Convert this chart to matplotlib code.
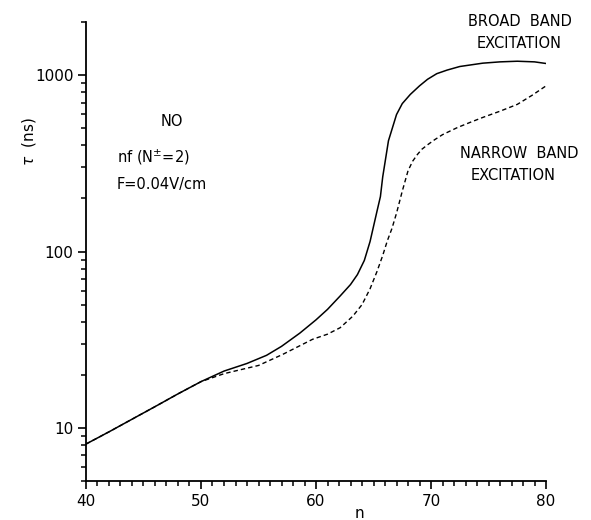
import numpy as np
from matplotlib import pyplot as plt
from matplotlib.ticker import LogLocator, NullFormatter, FixedLocator, MultipleLocator

# values
n_broad = [40, 42, 44, 46, 48, 50, 52, 54, 55.7, 57, 58.6, 60, 61, 62.1, 63.0,
           63.6, 64.2, 64.7, 65.3, 65.6, 65.8, 66.3, 67.0, 67.5, 68.2, 69.0,
           69.7, 70.5, 71.4, 72.5, 74.5, 76, 77.5, 79, 80]
tau_broad = [8.1, 9.5, 11.2, 13.2, 15.6, 18.3, 21.0, 23.2, 25.8, 29.0, 34.5, 41.0,
             47.0, 56.0, 65.0, 74.0, 89.0, 114.0, 169.0, 205.0, 265.0, 425.0,
             598.0, 690.0, 778.0, 870.0, 948.0, 1020.0, 1069.0, 1120.0, 1170.0,
             1190.0, 1200.0, 1190.0, 1165.0]

n_narrow = [40, 42, 44, 46, 48, 50, 52, 52.8, 55, 57.1, 59.7, 61, 62.1, 63.2,
            64.0, 64.7, 65.3, 65.8, 66.2, 66.6, 67.0, 67.5, 68.0, 68.4, 68.8,
            69.2, 69.7, 70.3, 71.0, 72.3, 73.4, 74.5, 76, 77.5, 78.8, 80]
tau_narrow = [8.1, 9.5, 11.2, 13.2, 15.6, 18.3, 20.3, 20.9, 22.6, 26.1, 31.8, 34.0,
              37.0, 43.0, 50.0, 61.5, 77.0, 95.0, 115.0, 135.0, 165.0, 220.0,
              287.0, 325.0, 354.0, 380.0, 403.0, 430.0, 460.0, 505.0, 540.0,
              576.0, 625.0, 683.0, 770.0, 870.0]

x_ticks = [40, 50, 60, 70, 80]
y_ticks = [10, 100, 1000]
y_ticklabels = ['10', '100', '1000']

fig = plt.figure(figsize=(5.91, 5.20), dpi=100)
ax = fig.add_axes([0.1455, 0.075, 0.7784, 0.8825])

ax.plot(n_broad, tau_broad, color='black', lw=1.1, solid_capstyle='butt')
ax.plot(n_narrow, tau_narrow, color='black', lw=1.0, linestyle=(0, (3.2, 2.2)))

ax.set_yscale('log')
ax.set_xlim(40, 80)
ax.set_ylim(5, 2000)

ax.spines['top'].set_visible(False)
ax.spines['right'].set_visible(False)
ax.spines['left'].set_linewidth(1.3)
ax.spines['bottom'].set_linewidth(1.3)

ax.xaxis.set_major_locator(FixedLocator(x_ticks))
ax.xaxis.set_minor_locator(MultipleLocator(1))
ax.set_xticklabels([str(v) for v in x_ticks])
ax.yaxis.set_major_locator(FixedLocator(y_ticks))
ax.set_yticklabels(y_ticklabels)
ax.yaxis.set_minor_locator(LogLocator(base=10, subs=np.arange(2, 10)))
ax.yaxis.set_minor_formatter(NullFormatter())

ax.tick_params(which='major', direction='out', length=6, width=1.2,
               labelsize=11, pad=3, color='black')
ax.tick_params(which='minor', direction='out', length=3.5, width=1.1)

ax.set_ylabel(r'$\tau$  (ns)', fontsize=11)
ax.yaxis.set_label_coords(-0.105, 0.74)
ax.set_xlabel('n', fontsize=11)
ax.xaxis.set_label_coords(0.595, -0.055)

# annotations, placed in figure pixels measured on the reference
fs = 10.5
def label(px, py, s, ha='center'):
    fig.text(px / 591, 1 - py / 520, s, fontsize=fs, ha=ha, va='center')

label(172, 121, 'NO')
label(117, 157, r'nf (N$^{\pm}$=2)', ha='left')
label(117, 184, 'F=0.04V/cm', ha='left')
label(520, 22, 'BROAD  BAND')
label(519, 43, 'EXCITATION')
label(519, 153, 'NARROW  BAND')
label(513, 175, 'EXCITATION')

plt.savefig('out.png', dpi=100)
